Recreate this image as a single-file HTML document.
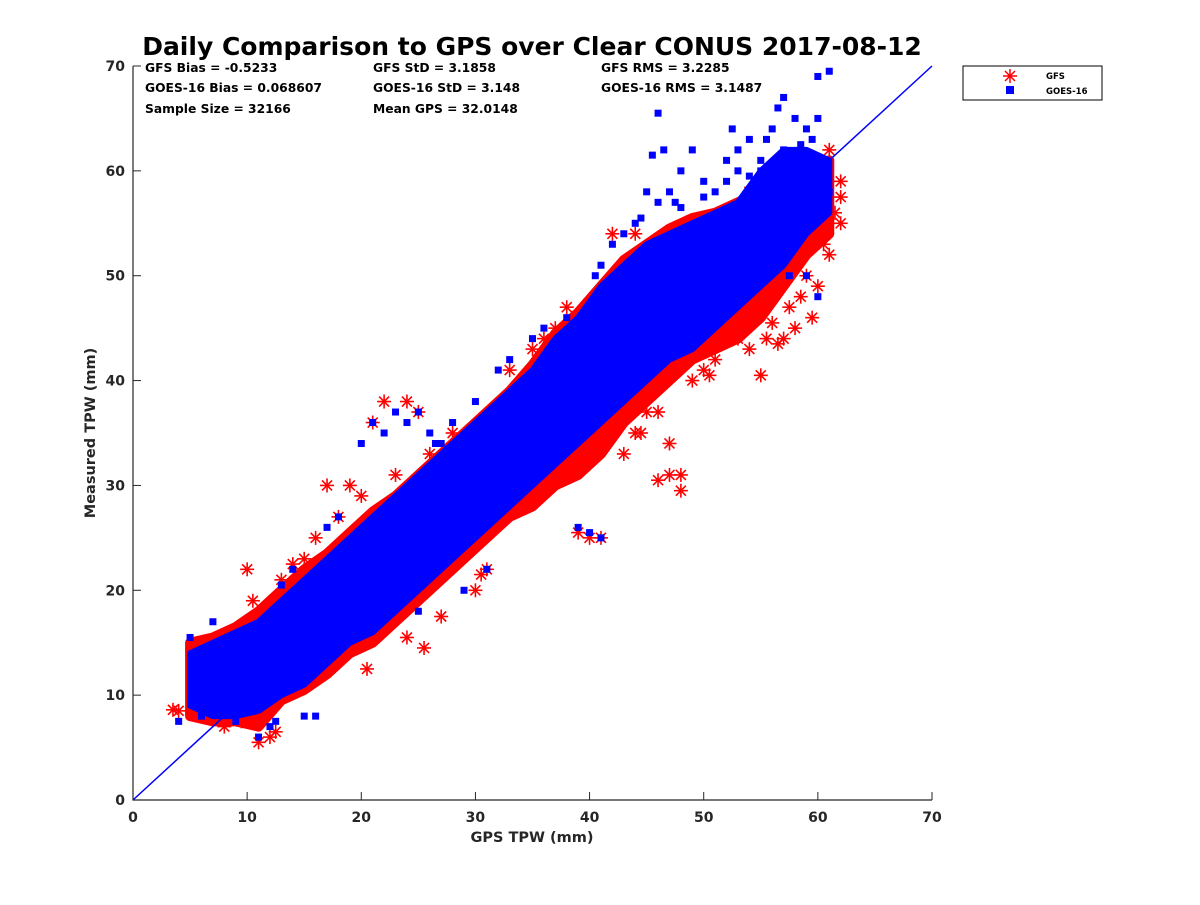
<!DOCTYPE html>
<html><head><meta charset="utf-8">
<style>
html,body{margin:0;padding:0;background:#fff;}
svg text{font-family:"DejaVu Sans","Liberation Sans",sans-serif;}
</style></head>
<body>
<svg id="chart" width="1200" height="900" xmlns="http://www.w3.org/2000/svg">
<rect width="1200" height="900" fill="#fff"/>
<text x="532" y="55" text-anchor="middle" font-size="25" font-weight="bold" fill="#000">Daily Comparison to GPS over Clear CONUS 2017-08-12</text>
<g id="plot"></g>
<g font-size="12.3" font-weight="bold" fill="#000">
<text x="145" y="72">GFS Bias = -0.5233</text>
<text x="145" y="92">GOES-16 Bias = 0.068607</text>
<text x="145" y="113">Sample Size = 32166</text>
<text x="373" y="72">GFS StD = 3.1858</text>
<text x="373" y="92">GOES-16 StD = 3.148</text>
<text x="373" y="113">Mean GPS = 32.0148</text>
<text x="601" y="72">GFS RMS = 3.2285</text>
<text x="601" y="92">GOES-16 RMS = 3.1487</text>
</g>
<g>
<rect x="963" y="66" width="139" height="34" fill="#fff" stroke="#000" stroke-width="1"/>
<g stroke="#f00" stroke-width="1.5">
<line x1="1010" y1="69" x2="1010" y2="83"/><line x1="1003" y1="76" x2="1017" y2="76"/>
<line x1="1005" y1="71" x2="1015" y2="81"/><line x1="1005" y1="81" x2="1015" y2="71"/></g>
<text x="1046" y="79" font-size="8.5" font-weight="bold">GFS</text>
<rect x="1006" y="86" width="8" height="8" fill="#00f"/>
<text x="1046" y="94" font-size="8.5" font-weight="bold">GOES-16</text>
</g>
<text x="532" y="842" text-anchor="middle" font-size="14.5" font-weight="bold" fill="#262626">GPS TPW (mm)</text>
<text transform="translate(95,433) rotate(-90)" text-anchor="middle" font-size="14.5" font-weight="bold" fill="#262626">Measured TPW (mm)</text>
</svg>
<script>
// Axis ticks
const xTicks = [0,10,20,30,40,50,60,70];
const yTicks = [0,10,20,30,40,50,60,70];
// Dense core bands (GPS x in mm; lower / upper measured TPW)
const bandX   = [5,7,9,11,13,15,17,19,21,23,25,27,29,31,33,35,37,39,41,43,45,47,49,51,53,55,57,59,61];
const goesLo  = [9,8,8,8.5,10,11,13,15,16,18,20,22,24,26,28,30,32,34,36,38,40,42,43,45,47,49,51,54,56];
const goesHi  = [14,15,16,17,19,21,23,25,27,29,31,33,35,37,39,41,44,46,49,51,53,54,55,56,57,60,62,62,61];
const gfsLo   = [8,7.5,7.5,7,9.5,10.5,12,14,15,17,19,21,23,25,27,28,30,31,33,36,38,40,42,43,44,46,49,52,54];
const gfsHi   = [15,15.5,16.5,18,20,22,23.5,25.5,27.5,29,31,33,35,37,39,41.5,44.5,46.5,49,51.5,53,54.5,55.5,56,57,58,59,60,61];
// Outliers
const gfsOutX = [55,54,57,58,60,61,62,62,61,60,48,48,46,47,47,45,40,41,39,36,34,32,25.5,11,4,6,7,10,15,21,22,24,25,17,19,36,37,42,44,54,57,52,54,8,3.5,59.5,56,12,30,31,
  5.5,6.5,9,10.5,13,14,16,18,20,23,26,28,33,35,38,43,44,46,49,50,51,53,55.5,57.5,58.5,59,60.5,61.5,62,56.5,53.5,50.5,44.5,42.5,30.5,27,24,20.5,12.5,9.5];
const gfsOutY = [40.5,43,44,45,49,52,55,59,62,57,29.5,31,30.5,31,34,37,25,25,25.5,30,30,27,14.5,5.5,8.5,15,15,22,23,36,38,38,37,30,30,44,45,54,54,58,57,52,54,7,8.6,46,45.5,6,20,22,
  14.5,14.8,16,19,21,22.5,25,27,29,31,33,35,41,43,47,33,35,37,40,41,42,44,44,47,48,50,53,56,57.5,43.5,46,40.5,35,36.5,21.5,17.5,15.5,12.5,6.5,7.5];
const goesOutX = [46,46.5,49,48,52,54,57,60,61,58,56,59,55,45,44,43,45.5,39,40,41,29,31,25,4,11,12,16,15,21,22,23,24,25,26,27,20,60,58,53,50,47,35,38,9,6,52.5,56.5,
  51,53,55,57,58.5,59.5,60.5,61,55.5,54,52,50,48,47.5,46,44.5,42,41,40.5,36,33,32,30,28,26.5,18,17,14,13,7,5,10,12.5,57.5,59,60];
const goesOutY = [65.5,62,62,60,61,63,67,69,69.5,65,64,64,60,58,55,54,61.5,26,25.5,25,20,22,18,7.5,6,7,8,8,36,35,37,36,37,35,34,34,65,61.5,62,59,58,44,46,7.5,8,64,66,
  58,60,61,62,62.5,63,61,58,63,59.5,59,57.5,56.5,57,57,55.5,53,51,50,45,42,41,38,36,34,27,26,22,20.5,17,15.5,13,7.5,50,50,48];

const L=133,R=932,T=66,B=800;
const xS=v=>L+(v/70)*(R-L);
const yS=v=>B-(v/70)*(B-T);
const NS="http://www.w3.org/2000/svg";
const plot=document.getElementById('plot');
function mk(tag,attrs){const e=document.createElementNS(NS,tag);for(const k in attrs)e.setAttribute(k,attrs[k]);return e;}

function bandPath(lo,hi){
  let d='';
  bandX.forEach((x,i)=>{d+=(i?'L':'M')+xS(x)+','+yS(hi[i]);});
  for(let i=bandX.length-1;i>=0;i--)d+='L'+xS(bandX[i])+','+yS(lo[i]);
  return d+'Z';
}
const gb=mk('path',{d:bandPath(gfsLo,gfsHi),fill:'#f00',stroke:'#f00','stroke-width':10,'stroke-linejoin':'round'});


plot.appendChild(gb);

gfsOutX.forEach((x,i)=>{
  const cx=xS(x),cy=yS(gfsOutY[i]),r=7,q=5;
  const g=mk('g',{stroke:'#f00','stroke-width':1.6});
  
  
  g.appendChild(mk('line',{x1:cx,y1:cy-r,x2:cx,y2:cy+r}));
  g.appendChild(mk('line',{x1:cx-r,y1:cy,x2:cx+r,y2:cy}));
  g.appendChild(mk('line',{x1:cx-q,y1:cy-q,x2:cx+q,y2:cy+q}));
  g.appendChild(mk('line',{x1:cx-q,y1:cy+q,x2:cx+q,y2:cy-q}));
  plot.appendChild(g);
});

const bb=mk('path',{d:bandPath(goesLo,goesHi),fill:'#00f',stroke:'#00f','stroke-width':6,'stroke-linejoin':'round'});


plot.appendChild(bb);

goesOutX.forEach((x,i)=>{
  const s=mk('rect',{x:xS(x)-3.5,y:yS(goesOutY[i])-3.5,width:7,height:7,fill:'#00f'});
  
  
  plot.appendChild(s);
});

const one=mk('line',{x1:xS(0),y1:yS(0),x2:xS(70),y2:yS(70),stroke:'#00f','stroke-width':1.5});


plot.appendChild(one);

const ax=mk('path',{d:`M${L},${T}V${B}H${R}`,fill:'none',stroke:'#262626','stroke-width':1.2});


plot.appendChild(ax);

xTicks.forEach(v=>{
  const t=mk('line',{x1:xS(v),y1:B,x2:xS(v),y2:B-8,stroke:'#262626','stroke-width':1});
  
  
  plot.appendChild(t);
  const l=mk('text',{x:xS(v),y:B+22,'text-anchor':'middle','font-size':14,'font-weight':'bold',fill:'#262626'});
  l.textContent=v;
  
  
  plot.appendChild(l);
});
yTicks.forEach(v=>{
  const t=mk('line',{x1:L,y1:yS(v),x2:L+8,y2:yS(v),stroke:'#262626','stroke-width':1});
  
  
  plot.appendChild(t);
  const l=mk('text',{x:L-8,y:yS(v)+5,'text-anchor':'end','font-size':14,'font-weight':'bold',fill:'#262626'});
  l.textContent=v;
  
  
  plot.appendChild(l);
});
</script>
</body></html>
